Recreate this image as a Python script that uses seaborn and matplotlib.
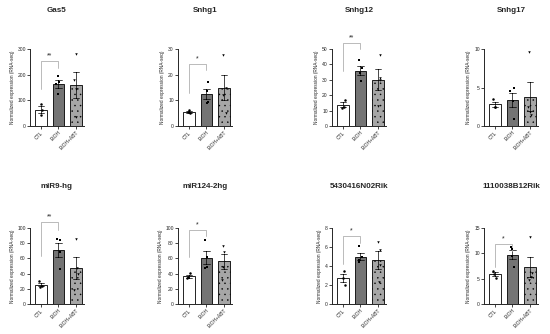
import numpy as np
import pandas as pd
import matplotlib
matplotlib.use("Agg")
import matplotlib.pyplot as plt
import seaborn as sns

groups = ["CTL", "EtOH", "EtOH+ABT"]
genes = ["Gas5", "Snhg1", "Snhg12", "Snhg17",
         "miR9-hg", "miR124-2hg", "5430416N02Rik", "1110038B12Rik"]

# individual values per gene: CTL (n=3), EtOH (n=4), EtOH+ABT (n=4)
gas5 = [[86, 63, 43], [196, 172, 162, 125], [282, 180, 143, 37]]
snhg1 = [[6.2, 5.0, 5.3], [17.3, 13.8, 9.5, 9.1], [27.8, 14.8, 12.1, 5.2]]
snhg12 = [[17, 12, 12.2], [42.6, 37.6, 34.6, 29], [46, 31, 30, 13]]
snhg17 = [[3.5, 2.5, 2.5], [5.0, 4.5, 3.2, 0.9], [9.6, 2.5, 1.8, 1.4]]
mir9 = [[29.7, 24, 23], [84, 85, 68, 46], [85, 48, 39, 18]]
mir124 = [[40.6, 35, 34], [84.7, 61.6, 49, 48], [76, 68, 49, 31.9]]
rik5430 = [[3.5, 2.7, 2.0], [6.07, 4.9, 4.6, 4.4], [6.5, 5.65, 4.07, 2.3]]
rik1110 = [[6.6, 5.9, 5.1], [11.2, 10.9, 9.4, 7.4], [13.2, 6.1, 5.3, 4.8]]
values = [gas5, snhg1, snhg12, snhg17, mir9, mir124, rik5430, rik1110]

ymax = [300, 30, 50, 10, 100, 100, 8, 15]
ystep = [100, 10, 10, 5, 20, 20, 2, 5]
stars = ["**", "*", "**", None, "**", "*", "*", "*"]
# bracket: (top, left leg bottom, right leg bottom)
brackets = [(252, 143, 226), (24.3, 13, 21.9), (54, 36, 50), None,
            (108, 63, 98), (98, 62, 90), (7.2, 4.2, 6.4), (11.8, 7.4, 10.5)]

bar_colors = ["white", "#747474", "#a6a6a6"]
markers = ["o", "s", "v"]

sns.set_style("ticks")
plt.rcParams["font.family"] = ["Arial", "Liberation Sans", "DejaVu Sans"]
plt.rcParams["hatch.linewidth"] = 0.3

fig = plt.figure(figsize=(5.5, 3.34), dpi=100)
lefts = [30, 178, 332, 484]
row_bottoms = [126, 304]
row_tops = [49, 228]

for i, gene in enumerate(genes):
    r, c = divmod(i, 4)
    x0 = lefts[c] / 550
    y0 = 1 - row_bottoms[r] / 334
    h = (row_bottoms[r] - row_tops[r]) / 334
    ax = fig.add_axes([x0, y0, 54 / 550, h])

    rows = []
    for g, vals in zip(groups, values[i]):
        for v in vals:
            rows.append({"group": g, "value": v})
    df = pd.DataFrame(rows)

    sns.barplot(data=df, x="group", y="value", order=groups, hue="group",
                palette=bar_colors, errorbar="se", capsize=0.35, width=0.65,
                edgecolor="black", linewidth=0.6,
                err_kws={"linewidth": 0.5, "color": "black"}, ax=ax, legend=False)
    ax.patches[2].set_hatch("...")

    for j, g in enumerate(groups):
        sub = df.copy()
        sub.loc[sub["group"] != g, "value"] = np.nan
        np.random.seed(i * 3 + j)
        sns.stripplot(data=sub, x="group", y="value", order=groups,
                      color="black", marker=markers[j], size=1.8, jitter=0.12,
                      ax=ax)

    ax.set_xlim(-0.62, 2.45)
    ax.set_ylim(0, ymax[i])
    ax.set_yticks(np.arange(0, ymax[i] + ystep[i] / 2, ystep[i]))
    ax.tick_params(axis="both", labelsize=3.6, length=2, width=0.6, pad=1)
    ax.set_xticks(range(3))
    ax.set_xticklabels(groups, rotation=45, ha="right", rotation_mode="anchor")
    ax.set_xlabel("")
    ax.set_ylabel("Normalized expression (RNA-seq)", fontsize=3.4, labelpad=2)
    for s in ["left", "bottom"]:
        ax.spines[s].set_linewidth(0.7)
    sns.despine(ax=ax)

    if brackets[i] is not None:
        top, lb, rb = brackets[i]
        ax.plot([0, 0, 1, 1], [lb, top, top, rb], color="#b0b0b0", lw=0.6,
                clip_on=False)
        ax.text(0.5, top + ymax[i] * 0.02, stars[i], ha="center", va="bottom",
                fontsize=5, clip_on=False)

    ax.set_title(gene, fontsize=5.8, fontweight="bold", pad=27 if r == 0 else 29)

fig.savefig("out.png", dpi=100)
